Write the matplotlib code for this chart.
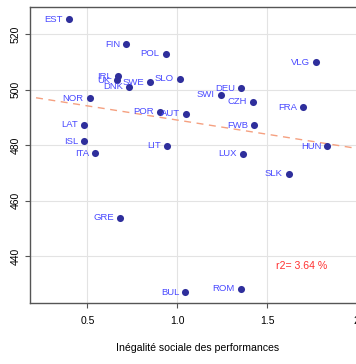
import numpy as np
import matplotlib
matplotlib.use("Agg")
import matplotlib.pyplot as plt

plt.rcParams['font.family'] = ['Liberation Sans', 'DejaVu Sans']

# pays / inegalite sociale / score moyen
pays = ['EST', 'FIN', 'POL', 'IRL', 'UK', 'DNK', 'SWE', 'SLO', 'NOR', 'POR',
        'AUT', 'LAT', 'ISL', 'ITA', 'LIT', 'VLG', 'DEU', 'SWI', 'CZH', 'FRA',
        'FWB', 'HUN', 'LUX', 'SLK', 'GRE', 'BUL', 'ROM']
inegalite = [0.396, 0.716, 0.935, 0.671, 0.663, 0.734, 0.851, 1.013, 0.513, 0.903,
             1.050, 0.483, 0.483, 0.543, 0.944, 1.774, 1.358, 1.243, 1.423, 1.703,
             1.430, 1.837, 1.365, 1.623, 0.684, 1.046, 1.356]
score = [525.4, 516.4, 512.9, 504.8, 503.4, 501.0, 502.6, 503.8, 496.9, 492.0,
         491.2, 487.3, 481.4, 477.0, 479.7, 509.9, 500.4, 498.1, 495.6, 493.7,
         487.1, 479.5, 476.9, 469.7, 453.7, 426.9, 428.2]

x = np.array(inegalite)
y = np.array(score)

fig = plt.figure(figsize=(3.56, 3.64), dpi=100)
ax = fig.add_axes([0.0843, 0.1676, 0.943, 0.813])

ax.grid(True, color='#e3e3e3', linewidth=0.8)
ax.set_axisbelow(True)

# droite de regression
a, b = np.polyfit(x, y, 1)
xs = np.array([0.0, 2.5])
ax.plot(xs, a * xs + b, color='#f5a080', linestyle=(0, (5, 4)), linewidth=1.0)

ax.scatter(x, y, s=26, color='#2f2f9c', zorder=3, linewidths=0)
for p, xi, yi in zip(pays, x, y):
    ax.annotate(p, (xi, yi), xytext=(-4.5, 0), textcoords='offset points',
                ha='right', va='center', fontsize=6.8, color='#4848ff')

ax.text(1.551, 436.5, 'r2= 3.64 %', color='#ff3030', fontsize=7.6, va='center')

ax.set_xlim(0.18, 2.05)
ax.set_ylim(423.06, 529.73)
ax.set_xticks([0.5, 1.0, 1.5, 2.0])
ax.set_xticklabels(['0.5', '1.0', '1.5', '2'])
ax.set_yticks([440, 460, 480, 500, 520])
for lab in ax.get_yticklabels():
    lab.set_rotation(90)
    lab.set_va('center')
ax.tick_params(labelsize=7.5, length=3.5, color='#555555', width=0.8)
ax.tick_params(axis='x', pad=6)
for s in ax.spines.values():
    s.set_color('#555555')
    s.set_linewidth(1.0)

ax.set_xlabel('Inégalité sociale des performances', fontsize=7.6, labelpad=12)

fig.savefig('out.png', dpi=100)
